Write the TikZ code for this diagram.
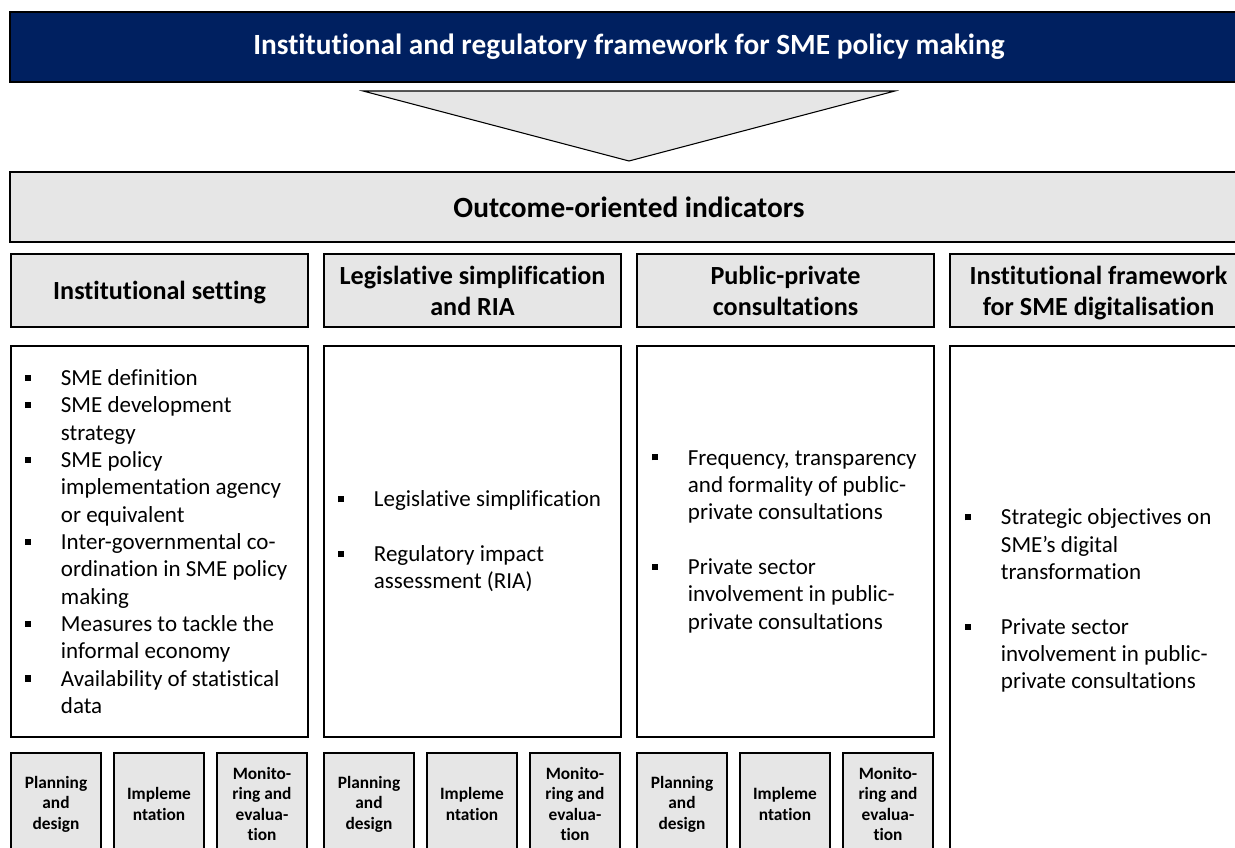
\documentclass[tikz,border=0pt]{standalone}
\usepackage{fontspec}
\setmainfont{Carlito}[Ligatures=NoCommon]
\usetikzlibrary{positioning}

\definecolor{oecdnavy}{RGB}{0,32,96}
\definecolor{panelgray}{RGB}{230,230,230}

\newcommand{\sqbul}{\makebox[26.75pt][l]{\rule[3.4pt]{4.6pt}{4.6pt}}}
\newcommand{\hang}{\hspace*{26.75pt}}

\tikzset{
    navybar/.style={draw=black, fill=oecdnavy, text=white, line width=0.8pt,
        minimum width=928.5pt, minimum height=52.5pt, inner sep=0pt, outer sep=0pt,
        font=\bfseries\fontsize{22}{26}\selectfont},
    funnel/.style={draw=black, fill=panelgray, line width=0.8pt},
    outcomebar/.style={draw=black, fill=panelgray, line width=0.8pt,
        minimum width=928.5pt, minimum height=52.5pt, inner sep=0pt, outer sep=0pt,
        font=\bfseries\fontsize{22}{26}\selectfont},
    headbox/.style={draw=black, fill=panelgray, line width=0.8pt, align=center,
        minimum width=222.75pt, minimum height=54.75pt, inner sep=0pt, outer sep=0pt,
        font=\bfseries\fontsize{19.6}{23.25}\selectfont},
    listbox/.style={draw=black, fill=white, line width=0.8pt,
        minimum width=222.75pt, minimum height=293.25pt, inner sep=0pt, outer sep=0pt},
    itemtext/.style={align=left, anchor=west, inner sep=0pt,
        font=\fontsize{17.25}{20.5}\selectfont},
    stagebox/.style={draw=black, fill=panelgray, line width=0.8pt, align=center,
        minimum width=67.5pt, minimum height=76.5pt, inner sep=0pt, outer sep=0pt,
        font=\bfseries\fontsize{13}{15.4}\selectfont}
}

\begin{document}
\begin{tikzpicture}
    \useasboundingbox (0,0) rectangle (926.25pt,-636pt);
    \clip (0,0) rectangle (926.25pt,-636pt);

    % top banner and funnel
    \node[navybar, anchor=north west] (title) at (7.5pt,-9pt)
        {Institutional and regulatory framework for SME policy making};
    \coordinate[below=6.75pt of title] (tritop);
    \coordinate[below=52.5pt of tritop] (apex);
    \draw[funnel] ([xshift=-199.5pt]tritop) -- ([xshift=199.5pt]tritop) -- (apex) -- cycle;

    \node[outcomebar, below=8.25pt of apex] (outcome) {Outcome-oriented indicators};

    % dimension headers
    \node[headbox, below right=9pt and 0.75pt of outcome.south west] (hd1) {Institutional \smash{setting}};
    \node[headbox, right=12pt of hd1] (hd2) {Legislative simplification\\and RIA};
    \node[headbox, right=12pt of hd2] (hd3) {Public-private\\consultations};
    \node[headbox, right=12pt of hd3] (hd4) {Institutional framework\\for SME \smash{digitalisation}};

    % indicator lists
    \node[listbox, below=14.25pt of hd1] (cnt1) {};
    \node[listbox, below=14.25pt of hd2] (cnt2) {};
    \node[listbox, below=14.25pt of hd3] (cnt3) {};
    \node[listbox, below=14.25pt of hd4, minimum height=390pt] (cnt4) {};

    \node[itemtext] (list1) at ([xshift=10.5pt]cnt1.west)
        {\sqbul SME definition\\
         \sqbul SME development\\
         \hang strategy\\
         \sqbul SME policy\\
         \hang implementation agency\\
         \hang or equivalent\\
         \sqbul Inter-governmental co-\\
         \hang ordination in SME policy\\
         \hang making\\
         \sqbul Measures to tackle the\\
         \hang informal economy\\
         \sqbul Availability of statistical\\
         \hang data};
    \node[itemtext] (list2) at ([xshift=10.5pt]cnt2.west)
        {\sqbul Legislative simplification\\[20.5pt]
         \sqbul Regulatory impact\\
         \hang assessment (RIA)};
    \node[itemtext] (list3) at ([xshift=11.25pt]cnt3.west)
        {\sqbul Frequency, transparency\\
         \hang and formality of public-\\
         \hang private consultations\\[20.5pt]
         \sqbul Private sector\\
         \hang involvement in public-\\
         \hang private consultations};
    \node[itemtext] (list4) at ([xshift=11.25pt,yshift=-44.5pt]cnt4.north west |- cnt3.west)
        {\sqbul Strategic objectives on\\
         \hang SME’s digital\\
         \hang transformation\\[20.5pt]
         \sqbul Private sector\\
         \hang involvement in public-\\
         \hang private consultations};

    % policy cycle stages
    \foreach \i in {1,2,3} {
        \node[stagebox, below right=12pt and 0pt of cnt\i.south west] (plan\i) {Planning\\and\\design};
        \node[stagebox, right=9.75pt of plan\i] (impl\i) {Impleme\\ntation};
        \node[stagebox, right=9.75pt of impl\i] (moni\i) {Monito-\\ring and\\evalua-\\tion};
    }
\end{tikzpicture}
\end{document}
